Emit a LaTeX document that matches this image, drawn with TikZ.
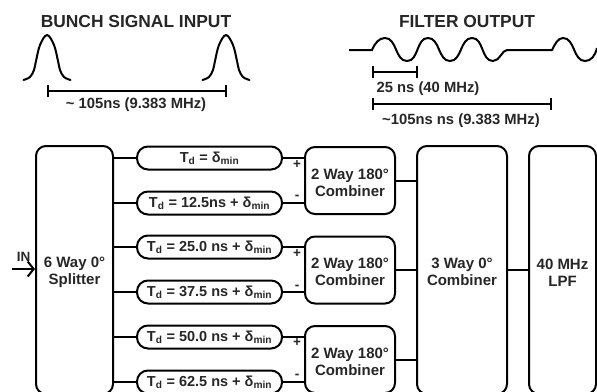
\documentclass[tikz,border=0pt]{standalone}
\usepackage{fontspec}
\setmainfont{Liberation Sans}
\usepackage{tikz}
\usetikzlibrary{arrows.meta, positioning}

\newcommand{\Td}{T\textsubscript{d}}
\newcommand{\dmin}{δ\textsubscript{min}}
\newcommand{\lift}{\rule{0pt}{15pt}}

\begin{document}
\begin{tikzpicture}[
  x=1pt, y=-1pt,
  block/.style={rectangle, rounded corners=10pt, draw=black, line width=2pt, inner sep=0pt, align=center, font=\fontsize{15}{17}\selectfont\bfseries, text=black!85},
  delay/.style={rectangle, rounded corners=11pt, draw=black, line width=2pt, inner sep=0pt, minimum width=145pt, minimum height=23pt, font=\fontsize{14.5}{16}\selectfont\bfseries, text=black!85},
  lbl/.style={font=\fontsize{14.8}{16}\selectfont\bfseries, text=black!85, inner sep=0pt},
  sign/.style={font=\fontsize{13.5}{14}\selectfont\bfseries, text=black!85, inner sep=0pt},
  title/.style={font=\fontsize{17.4}{20}\selectfont\bfseries, text=black!85, inner sep=0pt},
  wire/.style={line width=2pt},
  span/.style={line width=2pt, {Bar[width=12pt,line width=2pt]}-{Bar[width=12pt,line width=2pt]}}
]
  \useasboundingbox (0,0) rectangle (597,391);

  % top left: bunch signal
  \node[title] (bunch) at (136,22) {BUNCH SIGNAL INPUT};
  \foreach \px in {47,226} {
    \draw[wire, line cap=round] plot[smooth, tension=0.6] coordinates {(\px-23.5,80) (\px-17,77) (\px-13,70) (\px-11,61) (\px-7,45) (\px,35) (\px+7,45) (\px+11,61) (\px+13,70) (\px+17,77) (\px+23.5,80)};
  }
  \coordinate (ba) at (46.5,91);
  \coordinate (bb) at (226.5,91);
  \draw[span] (ba) -- (bb);
  \node[lbl] (blabel) at (136,104.5) {\textasciitilde{} 105ns (9.383 MHz)};

  % top right: filter output
  \node[title] (filter) at (467,22) {FILTER OUTPUT};
  \draw[wire] (349,50) -- (372,50)
    .. controls (375,43) and (379,38) .. (385,38)
    .. controls (397,38) and (395,61) .. (407,61)
    .. controls (419,61) and (416,38) .. (428,38)
    .. controls (440,38) and (438,61) .. (450,61)
    .. controls (462,61) and (460,38) .. (472,38)
    .. controls (484,38) and (481,61) .. (493,61)
    .. controls (500,61) and (502,50) .. (507,50)
    -- (552,50)
    .. controls (555,44) and (558,38) .. (563,38)
    .. controls (575,38) and (573,61) .. (585,61)
    .. controls (591,61) and (595,56) .. (597,48);
  \coordinate (fa) at (372,72);
  \coordinate (fb) at (418,72);
  \coordinate (fc) at (372,104);
  \coordinate (fd) at (552,104);
  \draw[span] (fa) -- (fb);
  \draw[span] (fc) -- (fd);
  \node[lbl] (flabel) at (428,88.5) {25 ns (40 MHz)};
  \node[lbl] (plabel) at (461,120.5) {\textasciitilde105ns ns (9.383 MHz)};

  % blocks
  \node[block, minimum width=77pt, minimum height=248pt] (split) at (74.5,270) {\lift 6 Way 0°\\Splitter};
  \node[block, minimum width=90pt, minimum height=67pt] (C1) at (350,180.5) {\lift 2 Way 180°\\Combiner};
  \node[block, minimum width=90pt, minimum height=67pt] (C2) at (350,270) {\lift 2 Way 180°\\Combiner};
  \node[block, minimum width=90pt, minimum height=67pt] (C3) at (350,359.5) {\lift 2 Way 180°\\Combiner};
  \node[block, minimum width=90pt, minimum height=248pt] (sum) at (462,270) {\lift 3 Way 0°\\Combiner};
  \node[block, minimum width=67pt, minimum height=248pt] (lpf) at (562.5,270) {\lift 40 MHz\\LPF};

  \node[delay] (D1) at (209.5,158) {\Td{} = \dmin};
  \node[delay] (D2) at (209.5,203) {\Td{} = 12.5ns + \dmin};
  \node[delay] (D3) at (209.5,247) {\Td{} = 25.0 ns + \dmin};
  \node[delay] (D4) at (209.5,292) {\Td{} = 37.5 ns + \dmin};
  \node[delay] (D5) at (209.5,337) {\Td{} = 50.0 ns + \dmin};
  \node[delay] (D6) at (209.5,382) {\Td{} = 62.5 ns + \dmin};

  % wires
  \foreach \i/\c in {1/C1,2/C1,3/C2,4/C2,5/C3,6/C3} {
    \draw[wire] (split.east |- D\i.west) -- (D\i.west);
    \draw[wire] (D\i.east) -- (D\i.east -| \c.west);
  }
  \foreach \c in {C1,C2,C3}
    \draw[wire] (\c.east) -- (\c.east -| sum.west);
  \draw[wire] (sum.east) -- (lpf.west);

  % signs
  \node[sign] (p1) at (297,165) {+};
  \node[sign] (m1) at (297,197) {-};
  \node[sign] (p2) at (297,254) {+};
  \node[sign] (m2) at (297,287) {-};
  \node[sign] (p3) at (297,343) {+};
  \node[sign] (m3) at (297,376) {-};

  % input
  \coordinate (in) at (12,269);
  \node[sign] (inlabel) at (23.5,257) {IN};
  \draw[wire, -{Straight Barb[length=6pt,width=15pt]}] (in) -- (in -| split.west);
\end{tikzpicture}
\end{document}
